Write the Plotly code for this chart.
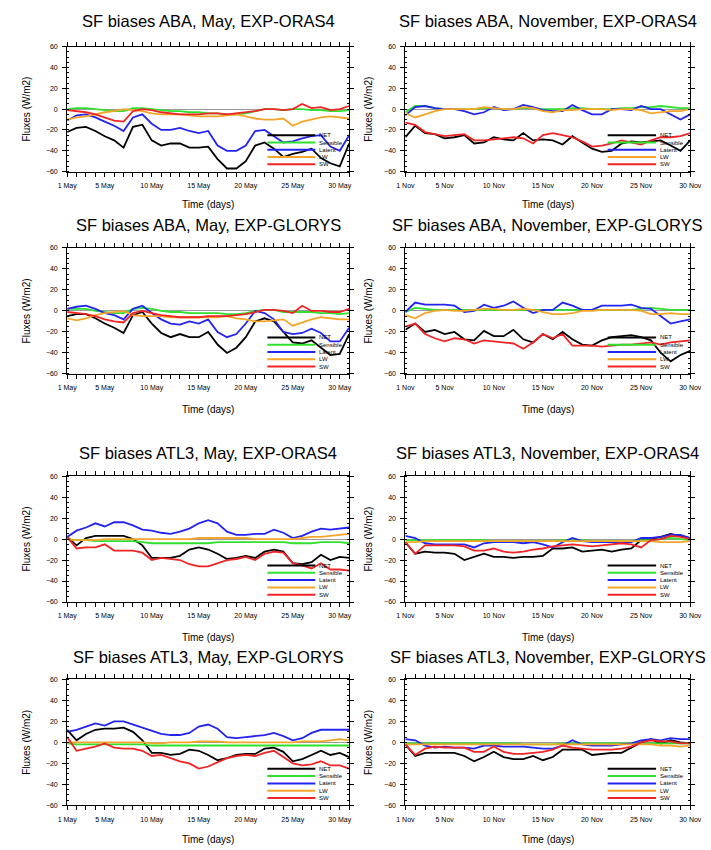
import plotly.graph_objects as go

# ---------------- data ----------------
may_days = list(range(1, 32))
nov_days = list(range(1, 31))
may_tick_vals = may_days
may_tick_text = ["1 May" if d == 1 else (f"{d} May" if d % 5 == 0 else "") for d in may_days]
nov_tick_vals = nov_days
nov_tick_text = ["1 Nov" if d == 1 else (f"{d} Nov" if d % 5 == 0 else "") for d in nov_days]
y_tick_vals = [-60, -40, -20, 0, 20, 40, 60]

series_names = ["NET", "Sensible", "Latent", "LW", "SW"]

# ABA, May, EXP-ORAS4
aba_may_o_net = [-22,-18,-17,-21,-26,-30,-37,-17,-15,-30,-35,-33,-33,-37,-37,-36,-48,-57,-57,-50,-35,-32,-38,-46,-43,-41,-38,-47,-52,-55,-33]
aba_may_o_sen = [0,1,1,0,-1,-2,-2,1,1,0,-1,-2,-2,-3,-3,-4,-4,-5,-5,-4,-2,0,0,-1,0,0,-1,-1,-2,-2,-1]
aba_may_o_lat = [-11,-6,-5,-8,-12,-16,-21,-8,-5,-14,-20,-20,-18,-21,-23,-21,-35,-40,-40,-35,-21,-20,-26,-32,-31,-28,-26,-25,-36,-40,-25]
aba_may_o_lw = [-10,-8,-7,-5,-3,-2,0,-1,-2,-4,-5,-5,-5,-6,-7,-7,-7,-6,-5,-7,-9,-10,-10,-9,-16,-12,-10,-8,-7,-8,-9]
aba_may_o_sw = [-1,-2,-3,-5,-8,-11,-12,-2,0,-1,-3,-4,-5,-5,-5,-4,-4,-5,-4,-3,-2,0,0,-1,0,5,1,2,-1,0,3]

# ABA, November, EXP-ORAS4
aba_nov_o_net = [-27,-16,-23,-24,-28,-27,-25,-33,-32,-27,-29,-30,-23,-30,-29,-30,-34,-26,-32,-38,-41,-40,-33,-31,-32,-31,-30,-35,-40,-30]
aba_nov_o_sen = [-3,3,3,1,0,0,0,0,1,1,0,0,1,1,0,0,0,1,1,0,0,0,1,1,2,2,3,2,1,1]
aba_nov_o_lat = [-6,2,3,1,0,0,-2,-5,-3,2,-1,0,4,2,-1,-2,-2,4,-1,-5,-5,0,0,-1,3,0,0,-5,-10,-5]
aba_nov_o_lw = [-4,-8,-5,-2,0,0,0,0,2,1,0,0,2,1,-2,-3,-1,-1,0,0,0,-1,0,0,-1,-4,-3,-2,-2,0]
aba_nov_o_sw = [-13,-15,-22,-24,-26,-25,-24,-30,-30,-29,-28,-27,-28,-33,-25,-23,-25,-27,-31,-36,-35,-33,-30,-32,-34,-30,-27,-27,-26,-23]

# ABA, May, EXP-GLORYS
aba_may_g_net = [-5,-3,-3,-7,-12,-16,-21,-4,-1,-12,-21,-25,-22,-25,-25,-20,-32,-40,-35,-25,-10,-7,-10,-20,-30,-31,-28,-35,-42,-41,-22]
aba_may_g_sen = [2,2,2,0,-1,-2,-2,2,3,2,0,-1,-1,-2,-2,-2,-2,-3,-3,-2,0,1,1,-1,-1,-1,-1,-2,-2,-3,-2]
aba_may_g_lat = [2,4,5,2,-2,-4,-8,2,5,-2,-8,-12,-13,-10,-12,-8,-20,-25,-22,-12,0,-2,-8,-20,-22,-21,-17,-21,-29,-29,-16]
aba_may_g_lw = [-7,-9,-7,-4,-2,-1,0,-4,-5,-5,-5,-6,-6,-6,-6,-6,-6,-5,-7,-8,-10,-10,-9,-8,-14,-11,-8,-6,-7,-8,-8]
aba_may_g_sw = [-1,-2,-3,-5,-8,-10,-11,-2,0,-2,-4,-5,-6,-6,-6,-5,-5,-5,-4,-3,-1,1,1,0,-2,5,0,0,-1,-1,2]

# ABA, November, EXP-GLORYS
aba_nov_g_net = [-18,-12,-20,-18,-22,-20,-27,-28,-19,-24,-24,-18,-27,-30,-22,-27,-20,-27,-32,-33,-28,-25,-24,-23,-25,-28,-40,-48,-42,-38]
aba_nov_g_sen = [-1,3,2,1,1,1,1,1,1,1,1,1,1,1,1,1,1,1,1,1,1,1,1,1,2,3,2,1,1,1]
aba_nov_g_lat = [-1,8,6,6,6,5,-1,0,6,3,5,9,3,-2,1,1,8,5,1,1,5,5,5,6,3,2,-5,-12,-10,-8]
aba_nov_g_lw = [-4,-7,-2,0,1,0,0,1,2,2,1,1,2,1,-1,-3,-3,-2,0,0,1,1,1,1,0,-3,-3,-2,-3,-3]
aba_nov_g_sw = [-15,-12,-22,-26,-29,-26,-27,-31,-28,-29,-30,-31,-36,-30,-22,-26,-22,-33,-33,-33,-34,-33,-32,-32,-31,-30,-32,-30,-29,-28]

# ATL3, May, EXP-ORAS4
atl_may_o_net = [2,-6,1,3,3,3,3,0,-6,-18,-18,-18,-16,-10,-8,-10,-14,-19,-18,-16,-18,-12,-10,-12,-23,-24,-22,-15,-20,-17,-18]
atl_may_o_sen = [0,-1,-1,-2,-2,-2,-2,-2,-3,-4,-4,-4,-4,-4,-4,-4,-3,-3,-3,-3,-3,-3,-3,-3,-4,-4,-4,-3,-3,-3,-4]
atl_may_o_lat = [2,8,11,15,12,16,16,13,9,8,6,5,7,10,15,18,15,7,4,4,5,5,9,6,1,3,7,10,9,10,11]
atl_may_o_lw = [0,-1,-1,-1,0,0,0,0,0,0,0,0,0,0,1,1,1,1,1,1,0,0,0,0,0,1,2,2,3,4,5]
atl_may_o_sw = [2,-9,-8,-8,-5,-11,-11,-11,-13,-20,-18,-19,-20,-24,-26,-26,-23,-20,-19,-17,-20,-14,-12,-13,-23,-25,-28,-23,-29,-29,-30]

# ATL3, November, EXP-ORAS4
atl_nov_o_net = [-3,-14,-12,-13,-13,-14,-20,-17,-14,-17,-17,-18,-17,-17,-16,-9,-9,-8,-12,-11,-10,-12,-10,-9,-1,0,2,5,3,1]
atl_nov_o_sen = [-1,-1,-1,-1,-1,-1,-1,-1,-1,-2,-2,-2,-2,-2,-2,-2,-1,-1,-1,-2,-2,-2,-2,-2,-1,-1,0,1,0,-1]
atl_nov_o_lat = [3,1,-4,-5,-5,-5,-5,-8,-4,-3,-3,-3,-4,-3,-5,-8,-3,1,-2,-3,-3,-3,-3,-3,1,1,2,4,4,1]
atl_nov_o_lw = [-3,-3,-2,-2,-2,-2,-2,-2,-2,-2,-2,-2,-2,-2,-2,-2,-2,-2,-2,-2,-2,-2,-2,-2,-2,-2,-3,-3,-3,-2]
atl_nov_o_sw = [-3,-14,-6,-6,-6,-6,-7,-11,-11,-9,-12,-13,-12,-10,-9,-7,-6,-5,-6,-7,-6,-5,-4,-5,-8,-1,0,3,2,0]

# ATL3, May, EXP-GLORYS
atl_may_g_net = [12,2,8,12,13,13,14,10,2,-10,-10,-12,-11,-7,-8,-12,-17,-15,-12,-11,-11,-6,-5,-9,-18,-16,-12,-8,-12,-10,-14]
atl_may_g_sen = [-1,-2,-2,-2,-2,-2,-2,-2,-2,-3,-3,-3,-3,-3,-3,-3,-3,-3,-3,-3,-3,-3,-3,-3,-3,-3,-3,-3,-3,-3,-3]
atl_may_g_lat = [10,12,15,18,16,20,20,17,14,11,8,7,7,9,15,17,13,5,4,5,6,7,9,6,2,4,9,12,12,12,12]
atl_may_g_lw = [0,0,0,0,0,0,0,0,0,-1,-1,0,0,0,1,1,1,0,0,0,0,0,0,0,0,1,1,1,2,3,2]
atl_may_g_sw = [5,-8,-6,-4,-1,-5,-6,-6,-8,-13,-12,-15,-18,-20,-25,-23,-19,-15,-13,-12,-13,-10,-8,-14,-20,-22,-21,-18,-22,-22,-25]

# ATL3, November, EXP-GLORYS
atl_nov_g_net = [-2,-13,-10,-10,-10,-10,-13,-18,-14,-9,-14,-16,-16,-13,-17,-14,-7,-7,-7,-12,-11,-10,-10,-5,0,3,-1,2,0,-1]
atl_nov_g_sen = [-1,-1,-1,-1,-1,-1,-1,-1,-1,-1,-1,-1,-2,-2,-2,-2,-1,-1,-1,-1,-1,-1,-1,-1,-1,-1,-1,-1,-1,-1]
atl_nov_g_lat = [3,2,-3,-5,-4,-5,-5,-6,-3,-3,-4,-4,-4,-5,-6,-6,-3,2,-2,-3,-3,-3,-2,-1,2,3,2,4,3,3]
atl_nov_g_lw = [-2,-2,-2,-2,-2,-2,-2,-2,-2,-2,-2,-2,-2,-2,-2,-2,-2,-2,-2,-2,-2,-2,-2,-2,-2,-2,-3,-3,-4,-3]
atl_nov_g_sw = [-2,-12,-6,-4,-5,-5,-5,-9,-9,-4,-9,-11,-11,-10,-9,-7,-3,-5,-6,-7,-7,-7,-6,-4,0,2,1,1,-1,-1]

panels = [
    ("SF biases ABA, May, EXP-ORAS4", "may", [aba_may_o_net, aba_may_o_sen, aba_may_o_lat, aba_may_o_lw, aba_may_o_sw]),
    ("SF biases ABA, November, EXP-ORAS4", "nov", [aba_nov_o_net, aba_nov_o_sen, aba_nov_o_lat, aba_nov_o_lw, aba_nov_o_sw]),
    ("SF biases ABA, May, EXP-GLORYS", "may", [aba_may_g_net, aba_may_g_sen, aba_may_g_lat, aba_may_g_lw, aba_may_g_sw]),
    ("SF biases ABA, November, EXP-GLORYS", "nov", [aba_nov_g_net, aba_nov_g_sen, aba_nov_g_lat, aba_nov_g_lw, aba_nov_g_sw]),
    ("SF biases ATL3, May, EXP-ORAS4", "may", [atl_may_o_net, atl_may_o_sen, atl_may_o_lat, atl_may_o_lw, atl_may_o_sw]),
    ("SF biases ATL3, November, EXP-ORAS4", "nov", [atl_nov_o_net, atl_nov_o_sen, atl_nov_o_lat, atl_nov_o_lw, atl_nov_o_sw]),
    ("SF biases ATL3, May, EXP-GLORYS", "may", [atl_may_g_net, atl_may_g_sen, atl_may_g_lat, atl_may_g_lw, atl_may_g_sw]),
    ("SF biases ATL3, November, EXP-GLORYS", "nov", [atl_nov_g_net, atl_nov_g_sen, atl_nov_g_lat, atl_nov_g_lw, atl_nov_g_sw]),
]

# ---------------- style / layout ----------------
W, H = 711, 850
colors = ["#000000", "#2fe02f", "#2424f0", "#f5a62a", "#f02424"]
FONT = "Liberation Sans, Arial, Helvetica, sans-serif"

col_px = [(59, 350), (408, 702)]
row_px = [(43, 169), (246, 373), (476, 603), (681, 808)]
title_px = [17, 223, 453, 658]
xtitle_px = [202, 409, 639, 842]
ytitle_x_px = [17, 370]
legend_rows = [0.29, 0.232, 0.174, 0.116, 0.058]

fig = go.Figure()
annotations = []
shapes = []
layout = {}

for i, (title, month, series) in enumerate(panels):
    r, c = divmod(i, 2)
    n = i + 1
    xa = "x" if n == 1 else f"x{n}"
    ya = "y" if n == 1 else f"y{n}"
    days = may_days if month == "may" else nov_days
    tv = may_tick_vals if month == "may" else nov_tick_vals
    tt = may_tick_text if month == "may" else nov_tick_text
    xmax = 31 if month == "may" else 30

    for name, vals, col in zip(series_names, series, colors):
        fig.add_trace(go.Scatter(x=days, y=vals, mode="lines", name=name,
                                 line=dict(color=col, width=1.8),
                                 xaxis=xa, yaxis=ya, showlegend=False))

    x0, x1 = col_px[c]
    top, bot = row_px[r]
    layout["xaxis" if n == 1 else f"xaxis{n}"] = dict(
        domain=[x0 / W, x1 / W], anchor=ya, range=[1, xmax],
        tickmode="array", tickvals=tv, ticktext=tt,
        ticks="outside", ticklen=4, tickwidth=1, tickcolor="black",
        showline=True, linecolor="black", linewidth=1, mirror="allticks",
        showgrid=False, zeroline=False, ticklabeloverflow="allow", ticklabelstandoff=3,
        tickfont=dict(family=FONT, size=7, color="black"),
    )
    layout["yaxis" if n == 1 else f"yaxis{n}"] = dict(
        domain=[1 - bot / H, 1 - top / H], anchor=xa, range=[-60, 60],
        tickmode="array", tickvals=y_tick_vals,
        ticks="outside", ticklen=4, tickwidth=1, tickcolor="black",
        minor=dict(dtick=5, tick0=0, ticks="inside", ticklen=2, tickcolor="black", showgrid=False),
        showline=True, linecolor="black", linewidth=1, mirror="allticks",
        showgrid=False, zeroline=True, zerolinecolor="#9a9a9a", zerolinewidth=1,
        ticklabelstandoff=3,
        tickfont=dict(family=FONT, size=7, color="black"),
    )

    cx = (x0 + x1) / 2 / W
    annotations.append(dict(text=title, x=cx, y=1 - title_px[r] / H, xref="paper", yref="paper",
                            xanchor="center", yanchor="middle", showarrow=False,
                            font=dict(family=FONT, size=16.5, color="black")))
    annotations.append(dict(text="Time (days)", x=cx, y=1 - xtitle_px[r] / H, xref="paper", yref="paper",
                            xanchor="center", yanchor="middle", showarrow=False,
                            font=dict(family=FONT, size=10, color="black")))
    annotations.append(dict(text="Fluxes (W/m2)", x=ytitle_x_px[c] / W, y=1 - (top + bot) / 2 / H,
                            xref="paper", yref="paper", textangle=-90,
                            xanchor="center", yanchor="middle", showarrow=False,
                            font=dict(family=FONT, size=10, color="black")))

    # in-plot legend (NCL style)
    for name, col, ly in zip(series_names, colors, legend_rows):
        shapes.append(dict(type="line", xref=f"{xa} domain", yref=f"{ya} domain",
                           x0=0.71, x1=0.88, y0=ly, y1=ly, line=dict(color=col, width=2)))
        annotations.append(dict(text=name, x=0.885, y=ly, xref=f"{xa} domain", yref=f"{ya} domain",
                                xanchor="left", yanchor="middle", showarrow=False,
                                font=dict(family=FONT, size=6, color="black")))

fig.update_layout(
    width=W, height=H, margin=dict(l=0, r=0, t=0, b=0),
    paper_bgcolor="white", plot_bgcolor="white",
    annotations=annotations, shapes=shapes, showlegend=False,
    **layout,
)

fig.write_html("out.html")
